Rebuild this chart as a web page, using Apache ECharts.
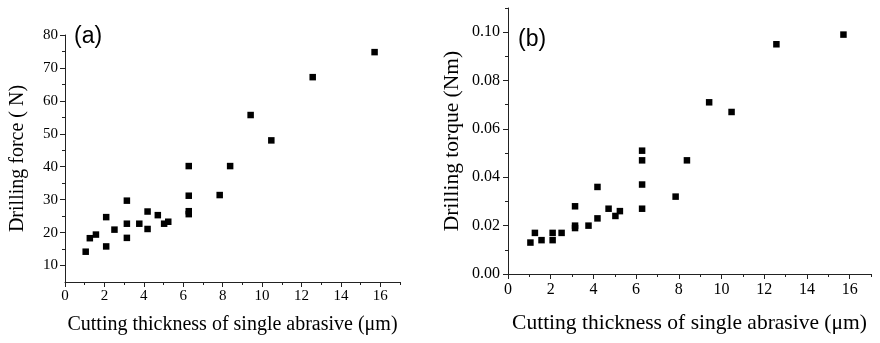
<!DOCTYPE html>
<html>
<head>
<meta charset="utf-8">
<script src="https://cdn.jsdelivr.net/npm/echarts@6/dist/echarts.min.js"></script>
<style>html,body{margin:0;padding:0;background:#fff;}#c{width:880px;height:343px;}</style>
</head>
<body>
<div id="c"></div>
<script>
// Data
var thickness = [1.05, 1.26, 1.57, 2.09, 2.09, 2.51, 3.14, 3.14, 3.14, 3.77, 4.19, 4.19, 4.71, 5.03, 5.24, 6.28, 6.28, 6.28, 6.28, 7.85, 8.38, 9.42, 10.47, 12.57, 15.71];
var force =     [14.2, 18.3, 19.4, 24.7, 15.8, 20.9, 29.7, 22.7, 18.4, 22.7, 26.4, 21.1, 25.3, 22.7, 23.3, 40.2, 31.2, 26.5, 25.6, 31.4, 40.2, 55.7, 48.0, 67.2, 74.8];
var torqueX =   [1.05, 1.26, 1.57, 2.09, 2.09, 2.51, 3.14, 3.14, 3.14, 3.77, 4.19, 4.19, 4.71, 5.03, 5.24, 6.28, 6.28, 6.28, 6.28, 7.85, 8.38, 9.42, 10.47, 12.57, 15.71];
var torque =    [0.013, 0.017, 0.014, 0.017, 0.014, 0.017, 0.028, 0.020, 0.019, 0.020, 0.036, 0.023, 0.027, 0.024, 0.026, 0.051, 0.047, 0.037, 0.027, 0.032, 0.047, 0.071, 0.067, 0.095, 0.099];
var xMajorTicks = [0, 2, 4, 6, 8, 10, 12, 14, 16];
var xMinorTicks = [1, 3, 5, 7, 9, 11, 13, 15, 17];
var forceMajorTicks = [10, 20, 30, 40, 50, 60, 70, 80];
var forceMinorTicks = [15, 25, 35, 45, 55, 65, 75];
var torqueMajorTicks = [0, 0.02, 0.04, 0.06, 0.08, 0.10];
var torqueMinorTicks = [0.01, 0.03, 0.05, 0.07, 0.09, 0.11];
var xTitle = 'Cutting thickness of single abrasive (\u03bcm)';
var forceTitle = 'Drilling force ( N)';
var torqueTitle = 'Drilling torque (Nm)';

function pair(a, b) { return a.map(function (v, i) { return [v, b[i]]; }); }

var SERIF = '"Liberation Serif", "Times New Roman", serif';
var lineStyle = { color: '#222', width: 1 };

function mainAxis(base, o) {
  return Object.assign({
    type: 'value',
    axisLine: { show: true, onZero: false, lineStyle: lineStyle },
    splitLine: { show: false },
    axisTick: { show: true, inside: false, length: 5, lineStyle: lineStyle },
    axisLabel: { color: '#000', fontFamily: SERIF },
    nameTextStyle: { color: '#000', fontFamily: SERIF }
  }, base, o);
}
function minorAxis(base) {
  return Object.assign({
    type: 'value',
    axisLine: { show: false, onZero: false },
    splitLine: { show: false },
    axisLabel: { show: false }
  }, base);
}

var option = {
  animation: false,
  backgroundColor: '#fff',
  grid: [
    { left: 65, top: 35, width: 335, height: 247 },
    { left: 508, top: 8, width: 363, height: 266 }
  ],
  graphic: [
    { type: 'text', left: 74, top: 25, style: { text: '(a)', font: '23px "Liberation Sans", Arial, sans-serif', fill: '#000' } },
    { type: 'text', left: 518, top: 28, style: { text: '(b)', font: '23px "Liberation Sans", Arial, sans-serif', fill: '#000' } }
  ],
  xAxis: [
    mainAxis({ gridIndex: 0, min: 0, max: 17, interval: 1, position: 'bottom',
      name: xTitle, nameLocation: 'middle', nameGap: 33,
      nameTextStyle: { color: '#000', fontFamily: SERIF, fontSize: 20 } }, {
      axisLabel: { color: '#000', fontFamily: SERIF, fontSize: 15, margin: 7, customValues: xMajorTicks },
      axisTick: { show: true, length: 5, lineStyle: lineStyle, customValues: xMajorTicks }
    }),
    mainAxis({ gridIndex: 1, min: 0, max: 17, interval: 1, position: 'bottom',
      name: xTitle, nameLocation: 'middle', nameGap: 38,
      nameTextStyle: { color: '#000', fontFamily: SERIF, fontSize: 21.5 } }, {
      axisLabel: { color: '#000', fontFamily: SERIF, fontSize: 16, margin: 8, customValues: xMajorTicks },
      axisTick: { show: true, length: 5, lineStyle: lineStyle, customValues: xMajorTicks }
    }),
    minorAxis({ gridIndex: 0, min: 0, max: 17, interval: 1, position: 'bottom',
      axisTick: { show: true, length: 3, lineStyle: lineStyle, customValues: xMinorTicks } }),
    minorAxis({ gridIndex: 1, min: 0, max: 17, interval: 1, position: 'bottom',
      axisTick: { show: true, length: 3, lineStyle: lineStyle, customValues: xMinorTicks } })
  ],
  yAxis: [
    mainAxis({ gridIndex: 0, min: 5, max: 80, interval: 5, position: 'left',
      name: forceTitle, nameLocation: 'middle', nameGap: 37, nameRotate: 90,
      nameTextStyle: { color: '#000', fontFamily: SERIF, fontSize: 20 } }, {
      axisLabel: { color: '#000', fontFamily: SERIF, fontSize: 15, margin: 7, customValues: forceMajorTicks },
      axisTick: { show: true, length: 5, lineStyle: lineStyle, customValues: forceMajorTicks }
    }),
    mainAxis({ gridIndex: 1, min: 0, max: 0.11, interval: 0.01, position: 'left',
      name: torqueTitle, nameLocation: 'middle', nameGap: 45, nameRotate: 90,
      nameTextStyle: { color: '#000', fontFamily: SERIF, fontSize: 21.5 } }, {
      axisLabel: { color: '#000', fontFamily: SERIF, fontSize: 16, margin: 8, customValues: torqueMajorTicks,
        formatter: function (v) { return v.toFixed(2); } },
      axisTick: { show: true, length: 5, lineStyle: lineStyle, customValues: torqueMajorTicks }
    }),
    minorAxis({ gridIndex: 0, min: 5, max: 80, interval: 5, position: 'left',
      axisTick: { show: true, length: 3, lineStyle: lineStyle, customValues: forceMinorTicks } }),
    minorAxis({ gridIndex: 1, min: 0, max: 0.11, interval: 0.01, position: 'left',
      axisTick: { show: true, length: 3, lineStyle: lineStyle, customValues: torqueMinorTicks } })
  ],
  series: [
    { type: 'scatter', xAxisIndex: 0, yAxisIndex: 0, symbol: 'rect', symbolSize: 6.5,
      itemStyle: { color: '#000', opacity: 1 }, data: pair(thickness, force) },
    { type: 'scatter', xAxisIndex: 1, yAxisIndex: 1, symbol: 'rect', symbolSize: 6.5,
      itemStyle: { color: '#000', opacity: 1 }, data: pair(torqueX, torque) }
  ]
};
var chart = echarts.init(document.getElementById('c'), null, { renderer: 'canvas' });
chart.setOption(option);
</script>
</body>
</html>
